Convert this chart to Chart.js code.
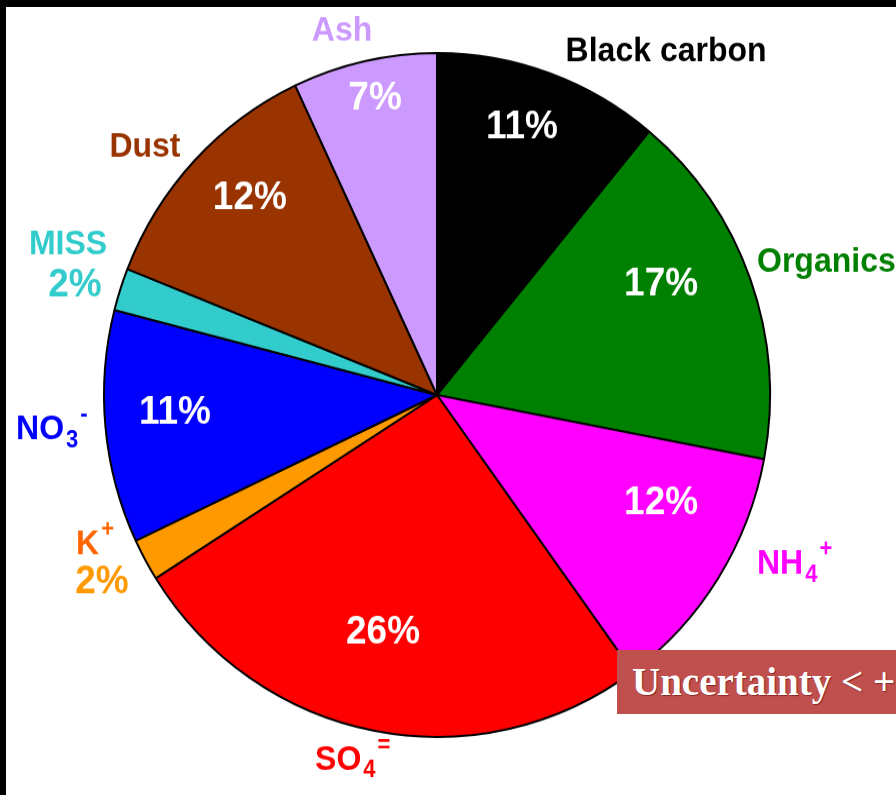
<!DOCTYPE html>
<html>
<head>
<meta charset="utf-8">
<script src="https://cdn.jsdelivr.net/npm/chart.js@4.4.1/dist/chart.umd.min.js"></script>
<style>
html, body { margin: 0; padding: 0; background: #fff; overflow: hidden; }
#wrap { position: relative; width: 896px; height: 795px; overflow: hidden; }
#chart1 { transform: scaleY(1.027); transform-origin: 437px 395px; }
#frameTop { position: absolute; left: 0; top: 0; width: 896px; height: 7px; background: #000; }
#frameLeft { position: absolute; left: 0; top: 0; width: 6px; height: 795px; background: #000; }
#note {
    position: absolute; left: 617px; top: 650px; width: 320px; height: 64px;
    background: #C0504D; color: #fff; box-sizing: border-box; padding-left: 15px;
    font: bold 39px "Liberation Serif", "Times New Roman", serif; line-height: 64px;
    white-space: nowrap; text-shadow: 1px 1px 1px rgba(80,0,0,0.5);
}
</style>
</head>
<body>
<div id="wrap">
    <canvas id="chart1" width="896" height="795"></canvas>
    <div id="frameTop"></div>
    <div id="frameLeft"></div>
    <div id="note">Uncertainty &lt; +</div>
</div>
<script>

// composition, clockwise from 12 o'clock
var categories = ["Black carbon", "Organics", "NH4+", "SO4=", "K+", "NO3-", "MISS", "Dust", "Ash"];
var shares = [11, 17, 12, 26, 2, 11, 2, 12, 7];

var sliceColors = ["#000000", "#008000", "#FF00FF", "#FF0000", "#FF9900", "#0000FF", "#33CCCC", "#993300", "#CC99FF"];
var nameColors = ["#000000", "#008000", "#FF00FF", "#FF0000", "#FF6600", "#0000FF", "#33CCCC", "#993300", "#CC99FF"];

// label placement, in units of the pie radius from its centre
// name: [fx, fy, align]   pct: [fx, fy, inside?]
var namePos = [
    [0.688, -1.003, "center"],
    [0.961, -0.389, "left"],
    [0.961, 0.494, "left"],
    [-0.366, 1.067, "left"],
    [-1.084, 0.439, "left"],
    [-1.264, 0.102, "left"],
    [-1.108, -0.439, "center"],
    [-0.877, -0.725, "center"],
    [-0.285, -1.064, "center"]
];
var pctPos = [
    [0.255, -0.784, true],
    [0.673, -0.322, true],
    [0.673, 0.316, true],
    [-0.162, 0.696, true],
    [-1.006, 0.547, false],
    [-0.787, 0.053, true],
    [-1.087, -0.319, false],
    [-0.562, -0.576, true],
    [-0.186, -0.868, true]
];

var FONT = '"Liberation Sans", Arial, sans-serif';
var STRETCH = 1.05;

// "NH4+" -> NH, sub 4, sup +
function splitName(s) {
    var m = /^([A-Z]+)(\d?)([+\-=]?)$/.exec(s);
    if (!m) return [[s, ""]];
    var parts = [[m[1], ""]];
    if (m[2]) parts.push([m[2], "sub"]);
    if (m[3]) parts.push([m[3], "sup"]);
    return parts;
}

function drawRich(ctx, parts, x, y, size, align, color) {
    var small = Math.round(size * 0.68);
    var w = 0;
    parts.forEach(function (p) {
        ctx.font = "bold " + (p[1] ? small : size) + "px " + FONT;
        w += ctx.measureText(p[0]).width + (p[1] ? 2 : 0);
    });
    var cx = align === "center" ? x - w / 2 : x;
    ctx.save();
    ctx.translate(0, y);
    ctx.scale(1, STRETCH);
    ctx.fillStyle = color;
    ctx.textAlign = "left";
    ctx.textBaseline = "middle";
    parts.forEach(function (p) {
        var dy = 0;
        if (p[1] === "sub") { dy = size * 0.32; cx += 2; }
        if (p[1] === "sup") { dy = -size * 0.42; cx += 2; }
        ctx.font = "bold " + (p[1] ? small : size) + "px " + FONT;
        ctx.fillText(p[0], cx, dy);
        cx += ctx.measureText(p[0]).width;
    });
    ctx.restore();
}

var pieLabels = {
    id: "pieLabels",
    afterDraw: function (chart) {
        var ctx = chart.ctx;
        var arcs = chart.getDatasetMeta(0).data;
        var ox = arcs[0].x, oy = arcs[0].y, R = arcs[0].outerRadius;
        arcs.forEach(function (arc, i) {
            var np = namePos[i], pp = pctPos[i];
            drawRich(ctx, splitName(categories[i]), ox + np[0] * R, oy + np[1] * R, 32, np[2], nameColors[i]);
            drawRich(ctx, [[shares[i] + "%", ""]], ox + pp[0] * R, oy + pp[1] * R, 37, "center",
                pp[2] ? "#FFFFFF" : sliceColors[i]);
        });
    }
};

var canvas = document.getElementById("chart1").getContext("2d");

new Chart(canvas, {
    type: "pie",
    data: {
        labels: categories,
        datasets: [{
            data: shares,
            backgroundColor: sliceColors,
            borderColor: "#000000",
            borderWidth: 2
        }]
    },
    options: {
        responsive: false,
        animation: false,
        layout: { padding: { left: 103, right: 125, top: 61, bottom: 66 } },
        plugins: {
            legend: { display: false },
            tooltip: { enabled: false }
        }
    },
    plugins: [pieLabels]
});

</script>
</body>
</html>
